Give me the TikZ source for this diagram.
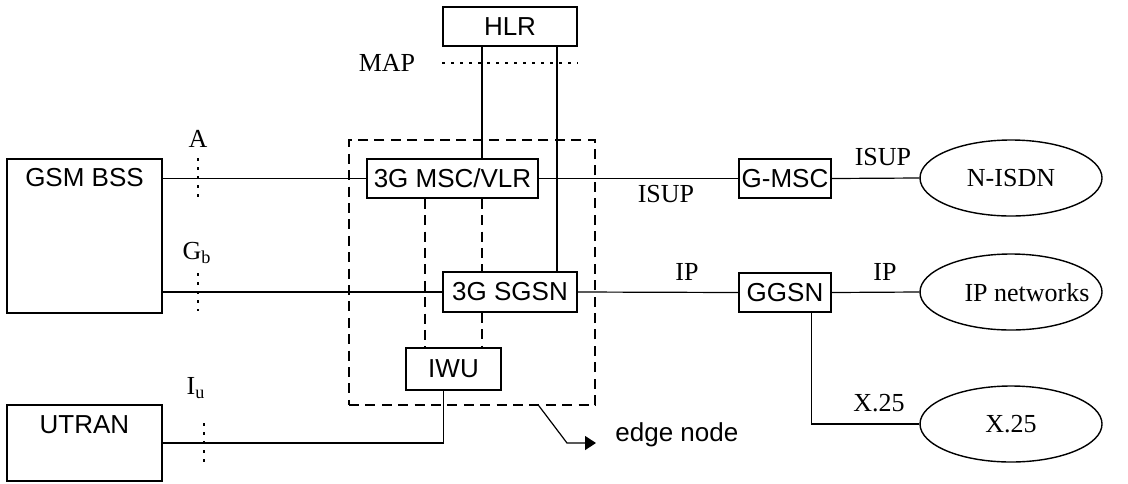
\documentclass[tikz,border=0pt]{standalone}
\usepackage{fontspec}
\setmainfont{Liberation Serif}
\setsansfont{Liberation Sans}
\usetikzlibrary{calc, positioning, arrows.meta, shapes.geometric}

\begin{document}
\begin{tikzpicture}[
  x=0.5pt, y=-0.5pt,
  netbox/.style={draw, line width=0.75pt, inner sep=0pt, font=\sffamily\fontsize{13}{15}\selectfont},
  boxtext/.style={inner sep=0pt, font=\sffamily\fontsize{13}{15}\selectfont},
  netcloud/.style={ellipse, draw, line width=0.7pt, minimum width=91pt, minimum height=38pt, inner sep=0pt, font=\fontsize{13}{15}\selectfont},
  iflabel/.style={inner sep=0pt, font=\fontsize{13}{15}\selectfont},
  link/.style={line width=0.6pt},
  ifmark/.style={line width=0.7pt, dash pattern=on 1.6pt off 2.9pt},
  edgebox/.style={draw, line width=0.7pt, dash pattern=on 5pt off 3.2pt},
  inlink/.style={line width=0.7pt, dash pattern=on 5pt off 3.2pt},
]
\useasboundingbox (0,0) rectangle (1128,483);

% Edge node frame
\node[edgebox, minimum width=123pt, minimum height=132.5pt] (edge) at (472,272.5) {};

% Core boxes
\node[netbox, minimum width=67pt,   minimum height=19.5pt] (hlr)  at (510,26.5)  {HLR};
\node[netbox, minimum width=85.5pt, minimum height=19.5pt] (msc)  at (452.5,178.5) {3G MSC/VLR};
\node[netbox, minimum width=67pt,   minimum height=20pt]   (sgsn) at (510,292)   {3G SGSN};
\node[netbox, minimum width=47.5pt, minimum height=21pt]   (iwu)  at (453.5,369) {IWU};
\node[netbox, minimum width=46pt,   minimum height=19.5pt] (gmsc) at (785,178.5) {G-MSC};
\node[netbox, minimum width=46pt,   minimum height=19.5pt] (ggsn) at (785,292.5) {GGSN};

% Access networks
\node[netbox, minimum width=77.5pt, minimum height=77pt] (bss)   at (84.5,236) {};
\node[boxtext] (bsstxt) at (84.5,178) {GSM BSS};
\node[netbox, minimum width=77.5pt, minimum height=38pt] (utran) at (84.5,443) {};
\node[boxtext] (utrantxt) at (84.5,425) {UTRAN};

% External networks
\node[netcloud] (nisdn) at (1011,178) {N-ISDN};
\node[netcloud] (ipnet) at (1011,292) {};
\node[iflabel]  (ipnettxt) at (1027,293) {IP networks};
\node[netcloud] (xnet)  at (1011,424) {X.25};

% Tap points
\coordinate (tapA) at (425,0);
\coordinate (tapB) at (482,0);
\coordinate (tapC) at (557,0);
\coordinate (iwutap) at ($(iwu.south west)!0.4!(iwu.south east)$);
\coordinate (ggsntap) at ($(ggsn.south west)!0.78!(ggsn.south east)$);

% Links
\draw[link] (msc.west -| bss.east) -- (msc.west);
\draw[link] (sgsn.west -| bss.east) -- (sgsn.west);
\draw[link] (utran.east) -| (iwutap);
\draw[link] (tapB |- hlr.south) -- (tapB |- msc.north);
\draw[link] (tapC |- hlr.south) -- (tapC |- sgsn.north);
\draw[link] (msc.east) -- (gmsc.west);
\draw[link] (gmsc.east) -- (nisdn.west);
\draw[link] (sgsn.east) -- (ggsn.west);
\draw[link] (ggsn.east) -- (ipnet.west);
\draw[link] (ggsntap) |- (xnet.west);

% Internal links
\draw[inlink] (tapA |- msc.south) -- (tapA |- iwu.north);
\draw[inlink] (tapB |- msc.south) -- (tapB |- sgsn.north);
\draw[inlink] (tapB |- sgsn.south) -- (tapB |- iwu.north);

% Interfaces
\node[iflabel] (map) at (387,63) {MAP};
\draw[ifmark] (map.center -| hlr.west) -- (map.center -| hlr.east);
\node[iflabel] (ifA) at (198,139) {A};
\draw[ifmark] ($(ifA)+(0,19)$) -- ++(0,39);
\node[iflabel] (ifGb) at (197,253) {G\textsubscript{b}};
\draw[ifmark] ($(ifGb)+(1,20)$) -- ++(0,38);
\node[iflabel] (ifIu) at (196,388) {I\textsubscript{u}};
\draw[ifmark] ($(ifIu)+(8,35)$) -- ++(0,39);

% Protocol labels
\node[iflabel] (isupA) at (666,194) {ISUP};
\node[iflabel] (isupB) at (883,157) {ISUP};
\node[iflabel] (ipA)   at (687,272) {IP};
\node[iflabel] (ipB)   at (885,272) {IP};
\node[iflabel] (xlbl)  at (879,403) {X.25};

% Edge node pointer
\coordinate (edgebend) at (567,443);
\coordinate (edgetip) at (596,443);
\node[boxtext, anchor=base west] (edgelbl) at (615,441) {edge node};
\draw[link, -{Triangle[length=5.5pt,width=7pt]}] ($(edge.south west)!0.77!(edge.south east)$) -- (edgebend) -- (edgetip);

\end{tikzpicture}
\end{document}
